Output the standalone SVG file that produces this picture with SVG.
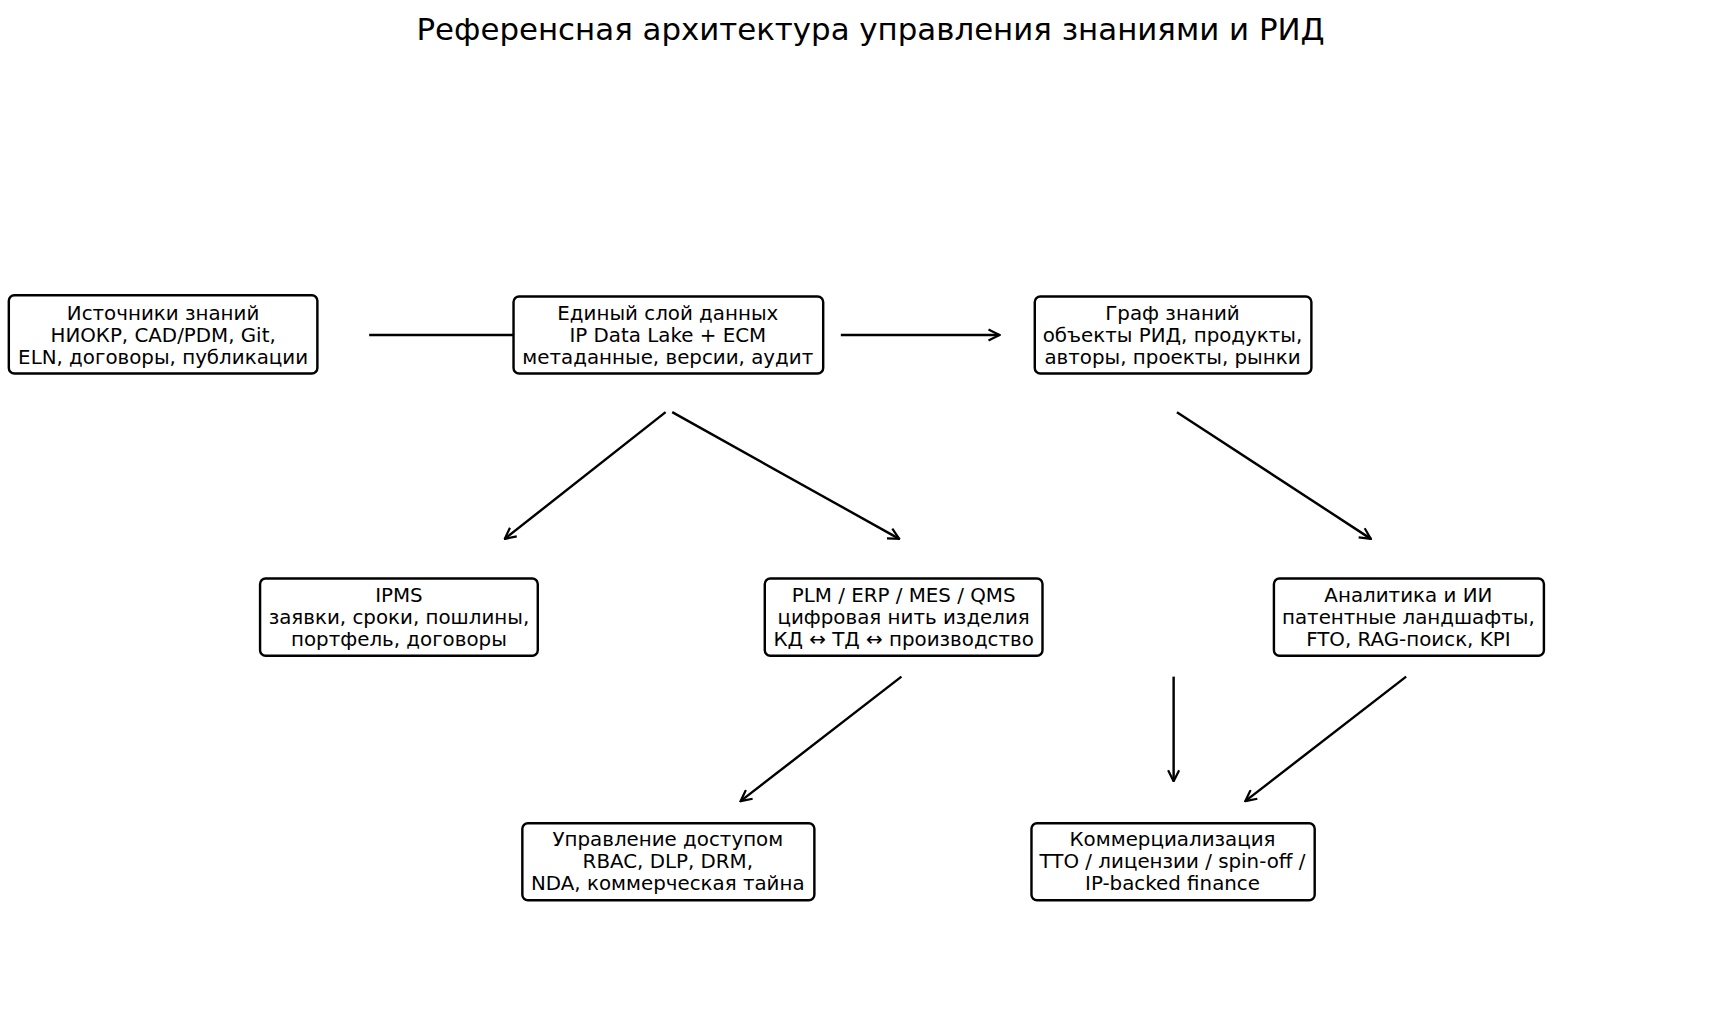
<svg xmlns="http://www.w3.org/2000/svg" width="1719" height="1023" viewBox="0 0 1719 1023">
<style>
.b{fill:#fff;stroke:#000;stroke-width:2.2}
.t{font-family:"DejaVu Sans",sans-serif;font-size:18px;text-anchor:middle;fill:#000}
.c{stroke:#000;stroke-width:2.2;fill:none;marker-end:url(#a)}
</style>
<defs><marker id="a" viewBox="0 0 12 12" refX="11" refY="6" markerWidth="12" markerHeight="12" markerUnits="userSpaceOnUse" orient="auto"><path d="M1,1 L11,6 L1,11" fill="none" stroke="#000" stroke-width="2"/></marker></defs>
<rect width="1719" height="1023" fill="#fff"/>
<g transform="scale(1.102)">
<text x="790" y="36" style="font-family:'DejaVu Sans',sans-serif;font-size:28px;text-anchor:middle">Референсная архитектура управления знаниями и РИД</text>
<g id="connectors">
<line class="c" x1="335" y1="304" x2="479" y2="304"/>
<line class="c" x1="763" y1="304" x2="907" y2="304"/>
<line class="c" x1="604" y1="374" x2="458" y2="489"/>
<line class="c" x1="610" y1="374" x2="816" y2="489"/>
<line class="c" x1="1068" y1="374" x2="1244" y2="489"/>
<line class="c" x1="818" y1="614" x2="672" y2="727"/>
<line class="c" x1="1065" y1="614" x2="1065" y2="709"/>
<line class="c" x1="1276" y1="614" x2="1130" y2="727"/>
</g>
<g id="n1"><rect class="b" x="8" y="268" width="280" height="71" rx="5"/><text class="t" x="148" y="290">Источники знаний</text><text class="t" x="148" y="310">НИОКР, CAD/PDM, Git,</text><text class="t" x="148" y="330">ELN, договоры, публикации</text></g>
<g id="n2"><rect class="b" x="466" y="269" width="281" height="70" rx="5"/><text class="t" x="606" y="290">Единый слой данных</text><text class="t" x="606" y="310">IP Data Lake + ECM</text><text class="t" x="606" y="330">метаданные, версии, аудит</text></g>
<g id="n3"><rect class="b" x="939" y="269" width="251" height="70" rx="5"/><text class="t" x="1064" y="290">Граф знаний</text><text class="t" x="1064" y="310">объекты РИД, продукты,</text><text class="t" x="1064" y="330">авторы, проекты, рынки</text></g>
<g id="n4"><rect class="b" x="236" y="525" width="252" height="70" rx="5"/><text class="t" x="362" y="546">IPMS</text><text class="t" x="362" y="566">заявки, сроки, пошлины,</text><text class="t" x="362" y="586">портфель, договоры</text></g>
<g id="n5"><rect class="b" x="694" y="525" width="252" height="70" rx="5"/><text class="t" x="820" y="546">PLM / ERP / MES / QMS</text><text class="t" x="820" y="566">цифровая нить изделия</text><text class="t" x="820" y="586">КД ↔ ТД ↔ производство</text></g>
<g id="n6"><rect class="b" x="1156" y="525" width="245" height="70" rx="5"/><text class="t" x="1278" y="546">Аналитика и ИИ</text><text class="t" x="1278" y="566">патентные ландшафты,</text><text class="t" x="1278" y="586">FTO, RAG-поиск, KPI</text></g>
<g id="n7"><rect class="b" x="474" y="747" width="265" height="70" rx="5"/><text class="t" x="606" y="768">Управление доступом</text><text class="t" x="606" y="788">RBAC, DLP, DRM,</text><text class="t" x="606" y="808">NDA, коммерческая тайна</text></g>
<g id="n8"><rect class="b" x="936" y="747" width="257" height="70" rx="5"/><text class="t" x="1064" y="768">Коммерциализация</text><text class="t" x="1064" y="788">TTO / лицензии / spin-off /</text><text class="t" x="1064" y="808">IP-backed finance</text></g>
</g>
</svg>
